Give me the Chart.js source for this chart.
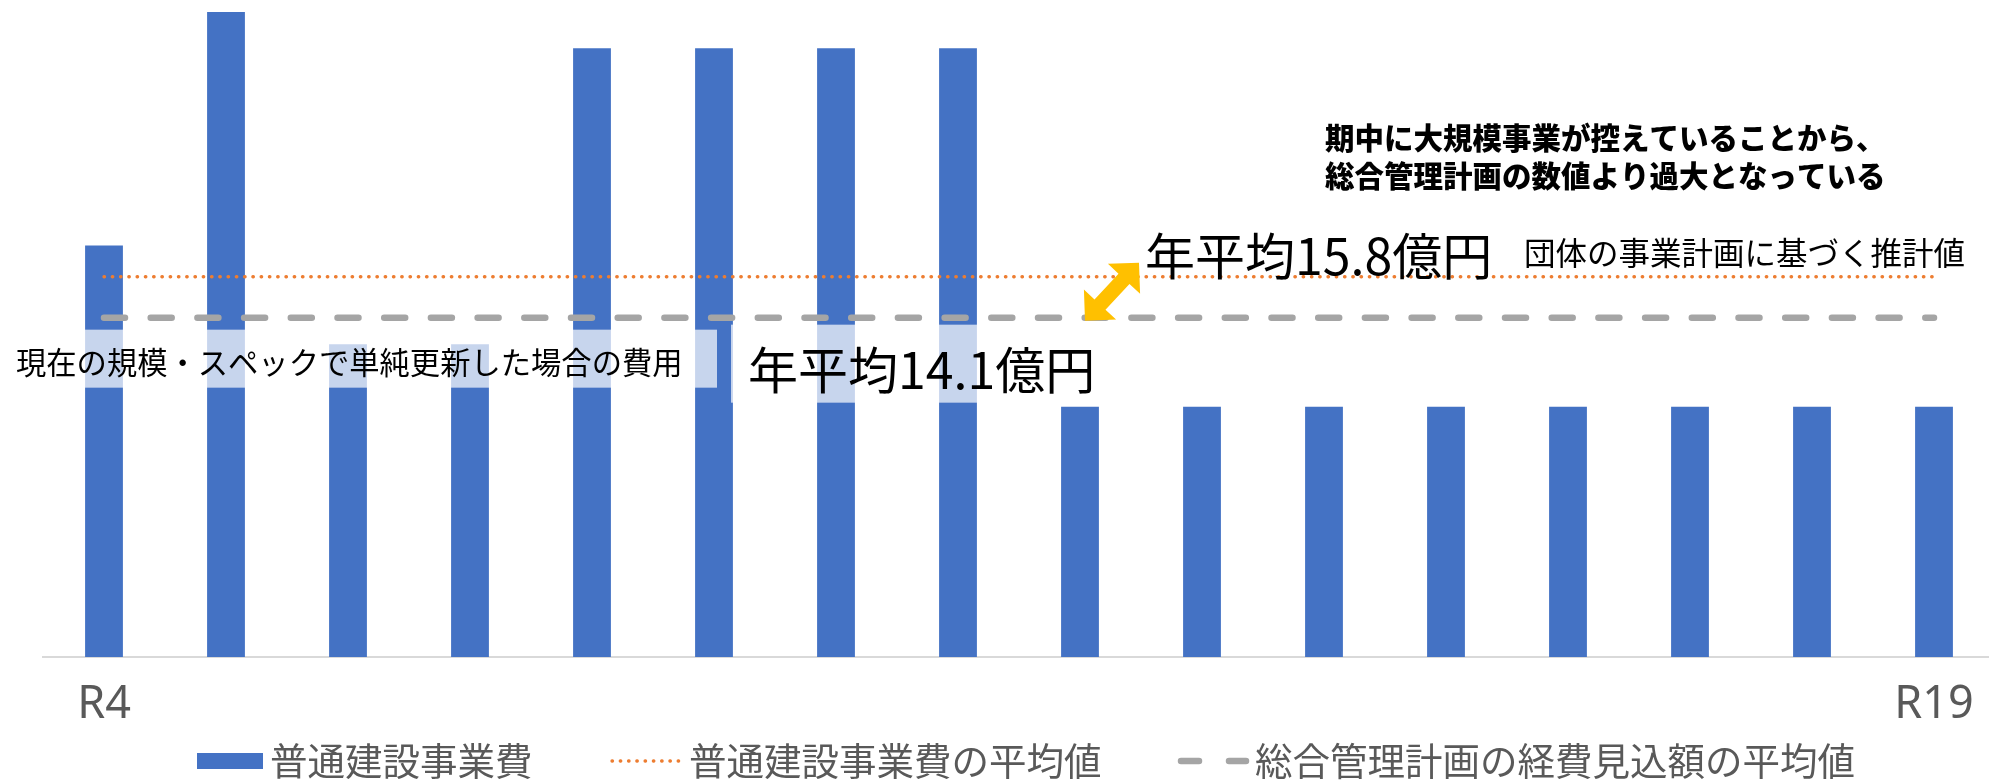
<!DOCTYPE html>
<html lang="ja">
<head>
<meta charset="utf-8">
<title>普通建設事業費の推移</title>
<script src="https://cdn.jsdelivr.net/npm/chart.js@4.4.1/dist/chart.umd.min.js"></script>
<style>
  html, body { margin: 0; padding: 0; background: #fff; overflow: hidden; }
  #wrap { width: 1995px; height: 780px; }
</style>
</head>
<body>
<div id="wrap"><canvas id="costChart" width="1995" height="780"></canvas></div>
<script>
// data (億円)
const categories = ["R4", "R5", "R6", "R7", "R8", "R9", "R10", "R11",
  "R12", "R13", "R14", "R15", "R16", "R17", "R18", "R19"];
const shownTicks = ["R4", "R19"];
const constructionCost = [17.1, 26.8, 13.0, 13.0, 25.3, 25.3, 25.3, 25.3,
  10.4, 10.4, 10.4, 10.4, 10.4, 10.4, 10.4, 10.4];
const costAverage = [15.8, 15.8, 15.8, 15.8, 15.8, 15.8, 15.8, 15.8,
  15.8, 15.8, 15.8, 15.8, 15.8, 15.8, 15.8, 15.8];
const planAverage = [14.1, 14.1, 14.1, 14.1, 14.1, 14.1, 14.1, 14.1,
  14.1, 14.1, 14.1, 14.1, 14.1, 14.1, 14.1, 14.1];
const seriesNames = ["普通建設事業費", "普通建設事業費の平均値", "総合管理計画の経費見込額の平均値"];

const noteLines = ["期中に大規模事業が控えていることから、", "総合管理計画の数値より過大となっている"];
const costAverageText = "年平均15.8億円";
const costCaption = "団体の事業計画に基づく推計値";
const planAverageText = "年平均14.1億円";
const planCaption = "現在の規模・スペックで単純更新した場合の費用";

const JP = '"Noto Sans CJK JP", "Noto Sans", sans-serif';

function drawArrow(ctx, ax, ay, bx, by) {
  const len = Math.hypot(bx - ax, by - ay);
  const ux = (bx - ax) / len, uy = (by - ay) / len;
  const nx = -uy, ny = ux;
  const h = 22, w = 22, s = 7.5;
  const pts = [
    [ax, ay],
    [ax + h * ux + w * nx, ay + h * uy + w * ny],
    [ax + h * ux + s * nx, ay + h * uy + s * ny],
    [bx - h * ux + s * nx, by - h * uy + s * ny],
    [bx - h * ux + w * nx, by - h * uy + w * ny],
    [bx, by],
    [bx - h * ux - w * nx, by - h * uy - w * ny],
    [bx - h * ux - s * nx, by - h * uy - s * ny],
    [ax + h * ux - s * nx, ay + h * uy - s * ny],
    [ax + h * ux - w * nx, ay + h * uy - w * ny]
  ];
  ctx.beginPath();
  pts.forEach((p, i) => (i ? ctx.lineTo(p[0], p[1]) : ctx.moveTo(p[0], p[1])));
  ctx.closePath();
  ctx.fillStyle = "#FFC000";
  ctx.fill();
}

const annotations = {
  id: "annotations",
  afterDatasetsDraw(chart) {
    const ctx = chart.ctx;
    const yCost = chart.scales.y.getPixelForValue(costAverage[0]);
    const yPlan = chart.scales.y.getPixelForValue(planAverage[0]);
    ctx.save();

    // label boxes lighten the bars behind them
    ctx.fillStyle = "rgba(255,255,255,0.7)";
    ctx.fillRect(8, yPlan + 12, 709, 58);
    ctx.fillRect(731, yPlan + 7, 374, 78);

    ctx.fillStyle = "#000";
    ctx.textBaseline = "middle";
    ctx.textAlign = "left";

    ctx.font = "30.3px " + JP;
    ctx.fillText(planCaption, 16, yPlan + 45);

    ctx.font = "50px " + JP;
    ctx.fillText(planAverageText, 748, yPlan + 52);
    ctx.fillText(costAverageText, 1145, yCost - 21);

    ctx.font = "31.5px " + JP;
    ctx.fillText(costCaption, 1524, yCost - 24);

    ctx.font = "900 29.5px " + JP;
    ctx.fillText(noteLines[0], 1325, 138);
    ctx.fillText(noteLines[1], 1325, 176);

    drawArrow(ctx, 1085, yPlan + 3, 1139, yCost - 14);
    ctx.restore();
  },
  afterDraw(chart) {
    const ctx = chart.ctx;
    const ds = chart.data.datasets;
    const y = 761;
    ctx.save();
    // bar swatch
    ctx.fillStyle = ds[0].backgroundColor;
    ctx.fillRect(197, y - 8, 66, 16);
    // dotted swatch
    ctx.strokeStyle = ds[1].borderColor;
    ctx.lineWidth = ds[1].borderWidth;
    ctx.lineCap = "round";
    ctx.setLineDash(ds[1].borderDash);
    ctx.beginPath();
    ctx.moveTo(612, y);
    ctx.lineTo(681, y);
    ctx.stroke();
    // dashed swatch
    ctx.strokeStyle = ds[2].borderColor;
    ctx.lineWidth = ds[2].borderWidth;
    ctx.setLineDash([]);
    ctx.beginPath();
    ctx.moveTo(1181, y); ctx.lineTo(1199, y);
    ctx.moveTo(1229, y); ctx.lineTo(1246, y);
    ctx.stroke();

    ctx.fillStyle = "#595959";
    ctx.font = "37.5px " + JP;
    ctx.textBaseline = "middle";
    ctx.fillText(ds[0].label, 270, y);
    ctx.fillText(ds[1].label, 689, y);
    ctx.fillText(ds[2].label, 1255, y);
    ctx.restore();
  }
};

const ctx = document.getElementById("costChart").getContext("2d");

new Chart(ctx, {
  type: "bar",
  data: {
    labels: categories,
    datasets: [
      {
        type: "bar",
        label: seriesNames[0],
        data: constructionCost,
        backgroundColor: "#4472C4",
        borderWidth: 0,
        categoryPercentage: 1,
        barPercentage: 0.31,
        order: 2
      },
      {
        type: "line",
        label: seriesNames[1],
        data: costAverage,
        borderColor: "#ED7D31",
        borderWidth: 3.3,
        borderDash: [0.5, 7.77],
        borderCapStyle: "round",
        pointRadius: 0,
        fill: false,
        order: 1
      },
      {
        type: "line",
        label: seriesNames[2],
        data: planAverage,
        borderColor: "#A5A5A5",
        borderWidth: 6.5,
        borderDash: [21, 25.7],
        borderCapStyle: "round",
        pointRadius: 0,
        fill: false,
        order: 1
      }
    ]
  },
  options: {
    responsive: false,
    animation: false,
    layout: { padding: { left: 43, right: 0, top: 0, bottom: 0 } },
    plugins: {
      legend: { display: false },
      tooltip: { enabled: false }
    },
    scales: {
      x: {
        grid: { display: false, drawTicks: false },
        border: { display: true, color: "#D9D9D9", width: 2 },
        ticks: {
          autoSkip: false,
          maxRotation: 0,
          padding: 21,
          color: "#595959",
          font: { family: '"Noto Sans", sans-serif', size: 45 },
          callback: function (value, index) {
            const c = categories[index];
            return shownTicks.includes(c) ? c : "";
          }
        },
        afterFit: function (scale) {
          scale.height = 123;
        }
      },
      y: {
        display: false,
        min: 0,
        max: 27.3
      }
    }
  },
  plugins: [annotations]
});
</script>
</body>
</html>
